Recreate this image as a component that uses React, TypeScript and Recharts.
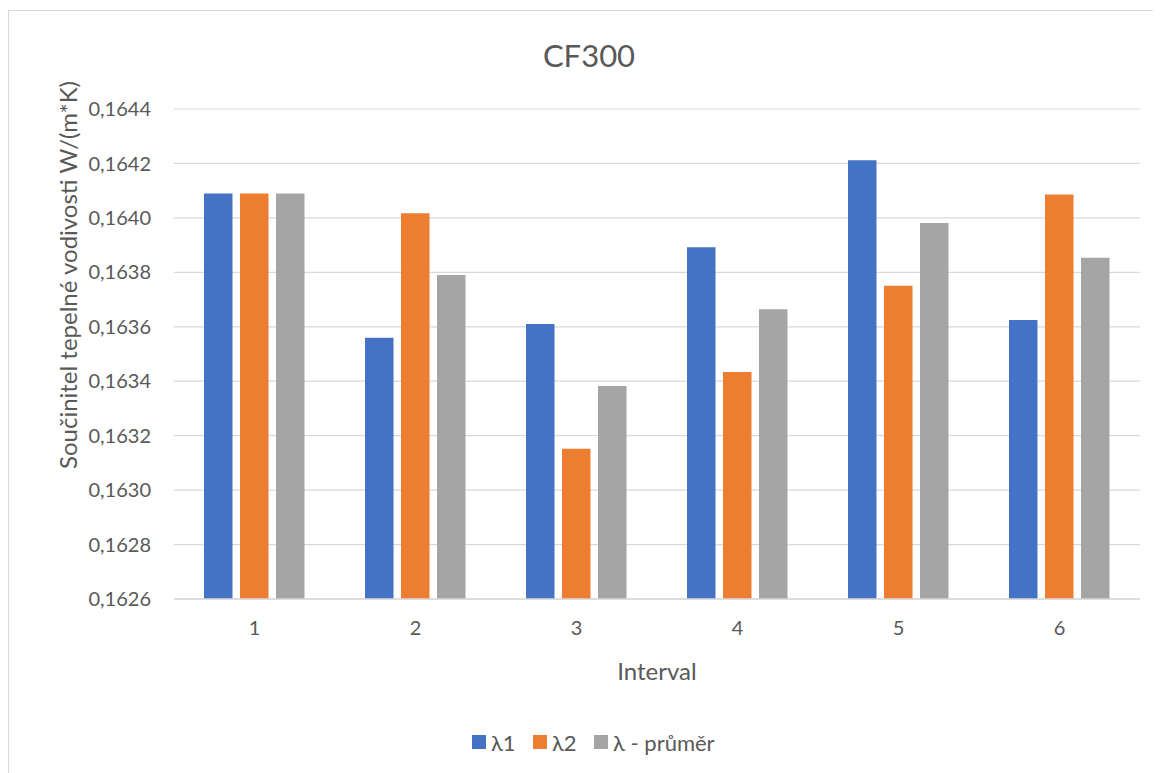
import React from "react";
import { BarChart, Bar, XAxis, YAxis, CartesianGrid } from "recharts";

// Intervals on the category axis
const intervals = ["1", "2", "3", "4", "5", "6"];

// Thermal conductivity per interval, W/(m*K)
const lambda1 = [0.16409, 0.16356, 0.16361, 0.163892, 0.164212, 0.163625];
const lambda2 = [0.16409, 0.164017, 0.163152, 0.163434, 0.163751, 0.164086];
const lambdaAvg = [0.16409, 0.16379, 0.163382, 0.163664, 0.163981, 0.163854];

const yTicks = [0.1626, 0.1628, 0.163, 0.1632, 0.1634, 0.1636, 0.1638, 0.164, 0.1642, 0.1644];

const seriesNames = ["λ1", "λ2", "λ - průměr"];
const seriesColors = ["#4472C4", "#ED7D31", "#A5A5A5"];
const seriesKeys = ["l1", "l2", "avg"];

const data = intervals.map((name, i) => ({
  name,
  l1: lambda1[i],
  l2: lambda2[i],
  avg: lambdaAvg[i],
}));

const FONT = "Lato, 'Open Sans', sans-serif";
const TEXT = "#595959";

const fmt = (v: number) => v.toFixed(4).replace(".", ",");

// legend item layout: square x, text x
const legendPos = [
  { sq: 463, tx: 482 },
  { sq: 524, tx: 543 },
  { sq: 585, tx: 604 },
];

export default function App() {
  const W = 1153;
  const H = 765;
  return (
    <div
      style={{
        position: "relative",
        width: W,
        height: H,
        marginTop: 2,
        borderTop: "1px solid #D9D9D9",
        borderLeft: "1px solid #D9D9D9",
        boxSizing: "border-box",
        background: "#fff",
        overflow: "hidden",
      }}
    >
      <BarChart
        width={W}
        height={H}
        data={data}
        margin={{ top: 98, right: 22, bottom: 147, left: 0 }}
        barSize={28.5}
        barGap={7.5}
      >
        <CartesianGrid vertical={false} stroke="#D9D9D9" strokeWidth={1.2} />
        <XAxis
          dataKey="name"
          height={30}
          tickLine={false}
          tickSize={0}
          tickMargin={22}
          axisLine={{ stroke: "#D9D9D9", strokeWidth: 1.5 }}
          tick={{ fill: TEXT, fontSize: 20, fontFamily: FONT }}
        />
        <YAxis
          width={165}
          domain={[0.1626, 0.1644]}
          ticks={yTicks}
          interval={0}
          allowDataOverflow
          axisLine={false}
          tickLine={false}
          tickSize={0}
          tickMargin={23}
          tickFormatter={fmt}
          tick={{ fill: TEXT, fontSize: 20, fontFamily: FONT }}
        />
        {seriesKeys.map((k, i) => (
          <Bar
            key={k}
            dataKey={k}
            name={seriesNames[i]}
            fill={seriesColors[i]}
            isAnimationActive={false}
          />
        ))}
      </BarChart>
      <svg
        width={W}
        height={H}
        style={{ position: "absolute", left: 0, top: 0, pointerEvents: "none" }}
      >
        <text
          x={580}
          y={44}
          textAnchor="middle"
          dominantBaseline="central"
          fontFamily={FONT}
          fontSize={31}
          fill={TEXT}
        >
          CF300
        </text>
        <text
          transform="translate(58,264) rotate(-90)"
          textAnchor="middle"
          dominantBaseline="central"
          fontFamily={FONT}
          fontSize={24}
          fill={TEXT}
        >
          Součinitel tepelné vodivosti W/(m*K)
        </text>
        <text
          x={648}
          y={659}
          textAnchor="middle"
          dominantBaseline="central"
          fontFamily={FONT}
          fontSize={24}
          fill={TEXT}
        >
          Interval
        </text>
        {seriesNames.map((n, i) => (
          <g key={n}>
            <rect x={legendPos[i].sq} y={724} width={14} height={14} fill={seriesColors[i]} />
            <text
              x={legendPos[i].tx}
              y={731}
              dominantBaseline="central"
              fontFamily={FONT}
              fontSize={22}
              fill={TEXT}
            >
              {n}
            </text>
          </g>
        ))}
      </svg>
    </div>
  );
}
